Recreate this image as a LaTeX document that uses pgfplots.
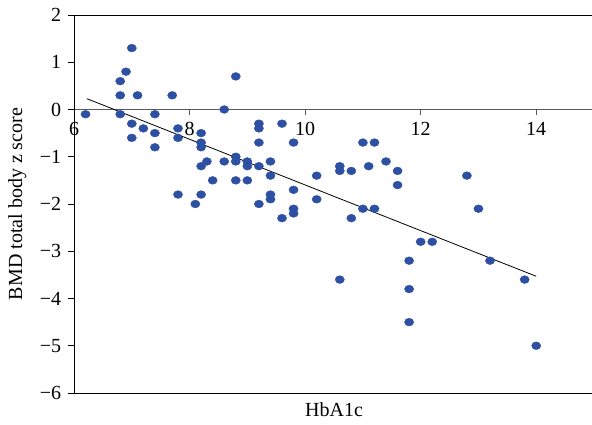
\documentclass[border=0pt]{standalone}
\usepackage{fontspec}
\setmainfont{Liberation Serif}
\usepackage{pgfplots}
\pgfplotsset{compat=1.18}
\definecolor{dotblue}{HTML}{2E50A3}
\begin{document}
\fontsize{20}{24}\selectfont
\begin{tikzpicture}
  \begin{axis}[
    scale only axis,
    width=520pt, height=378pt,
    xmin=6, xmax=15, ymin=-6, ymax=2,
    axis y line=left,
    axis x line=middle,
    axis line style={-},
    y axis line style={black, line width=0.9pt},
    x axis line style={black!65, line width=1.2pt},
    hide obscured x ticks=false,
    hide obscured y ticks=false,
    xtick={6,8,10,12,14},
    xticklabels={6,8,10,12,14},
    ytick={-6,-5,-4,-3,-2,-1,0,1,2},
    yticklabels={−6,−5,−4,−3,−2,−1,0,1,2},
    tick align=outside,
    major tick length=6pt,
    x tick style={black!65, line width=0.9pt},
    y tick style={black, line width=0.9pt},
    tick label style={font=\fontsize{20}{24}\selectfont},
    label style={font=\fontsize{20}{24}\selectfont},
    xlabel={HbA1c},
    ylabel={BMD total body z score},
    xlabel style={at={(rel axis cs:0.5,0)}, anchor=north, yshift=-3pt},
    clip=false,
  ]
    \addplot[only marks, mark=*, mark size=4.6pt,
      mark options={fill=dotblue, draw=dotblue, yscale=0.85}]
      coordinates {
        (6.2,-0.1) (6.8,0.6) (6.8,0.3) (6.8,-0.1) (6.9,0.8) (7.0,1.3)
        (7.0,-0.3) (7.0,-0.6) (7.1,0.3) (7.2,-0.4) (7.4,-0.1) (7.4,-0.5)
        (7.4,-0.8) (7.7,0.3) (7.8,-0.4) (7.8,-0.6) (7.8,-1.8) (8.1,-2.0)
        (8.2,-0.5) (8.2,-0.7) (8.2,-0.8) (8.2,-1.2) (8.2,-1.8) (8.3,-1.1)
        (8.4,-1.5) (8.6,0.0) (8.6,-1.1) (8.8,0.7) (8.8,-1.0) (8.8,-1.1)
        (8.8,-1.5) (9.0,-1.1) (9.0,-1.2) (9.0,-1.5) (9.2,-0.3) (9.2,-0.4)
        (9.2,-0.7) (9.2,-1.2) (9.2,-2.0) (9.4,-1.1) (9.4,-1.4) (9.4,-1.8)
        (9.4,-1.9) (9.6,-0.3) (9.6,-2.3) (9.8,-0.7) (9.8,-1.7) (9.8,-2.1)
        (9.8,-2.2) (10.2,-1.4) (10.2,-1.9) (10.6,-1.2) (10.6,-1.3) (10.6,-3.6)
        (10.8,-1.3) (10.8,-2.3) (11.0,-0.7) (11.0,-2.1) (11.1,-1.2) (11.2,-0.7)
        (11.2,-2.1) (11.4,-1.1) (11.6,-1.3) (11.6,-1.6) (11.8,-3.2) (11.8,-3.8)
        (11.8,-4.5) (12.0,-2.8) (12.2,-2.8) (12.8,-1.4) (13.0,-2.1) (13.2,-3.2)
        (13.8,-3.6) (14.0,-5.0)
      };
    % fitted line
    \addplot[black, line width=0.8pt, no markers]
      coordinates {(6.22,0.23) (14.0,-3.53)};
    \draw[black, line width=0.9pt] (rel axis cs:0,1) -- (rel axis cs:1,1);
    \draw[black, line width=0.9pt] (rel axis cs:0,0) -- (rel axis cs:1,0);
    \coordinate (ll) at (rel axis cs:0,0);
    \coordinate (ur) at (rel axis cs:1,1);
  \end{axis}
  \pgfresetboundingbox
  \useasboundingbox ([xshift=-74pt,yshift=-32pt]ll) rectangle ([xshift=-2pt,yshift=15pt]ur);
\end{tikzpicture}
\end{document}
